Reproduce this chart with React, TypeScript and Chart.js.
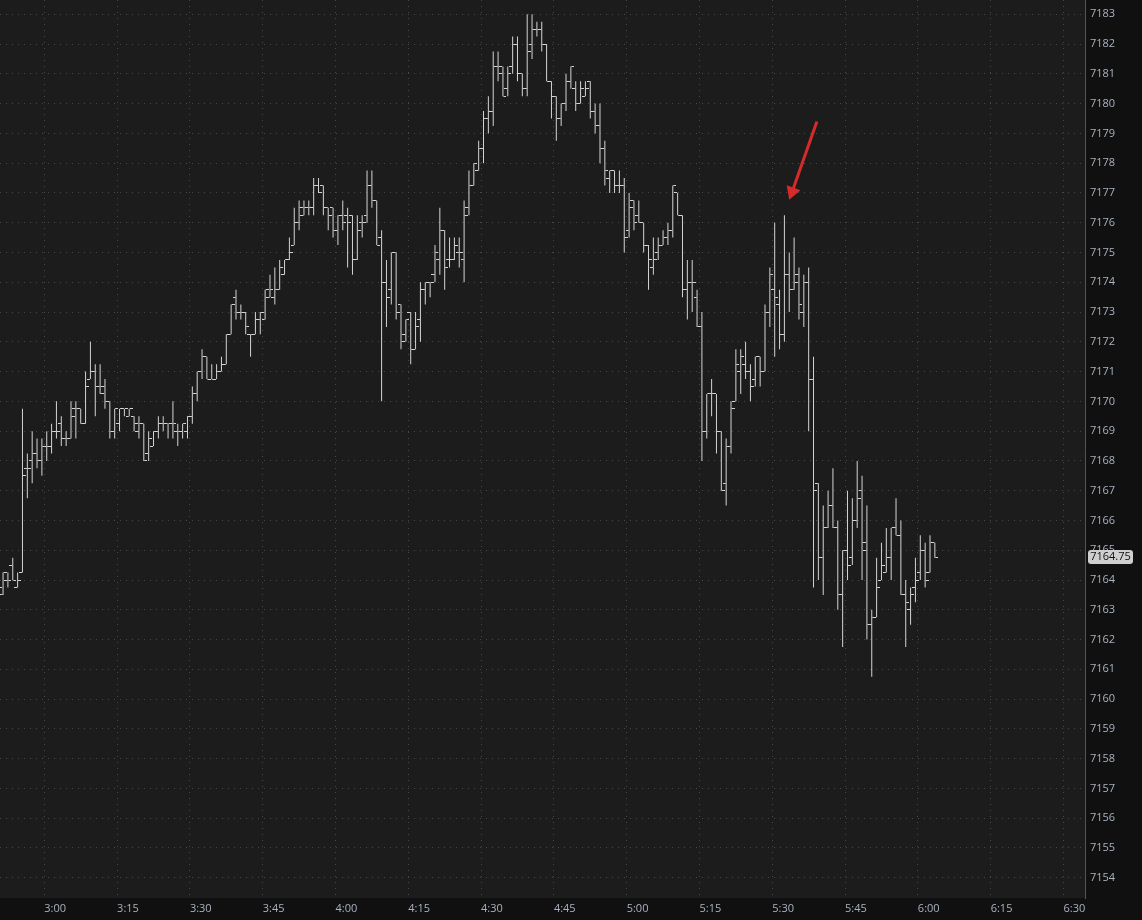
import React, { useEffect, useRef } from 'react';
import { Chart, registerables } from 'chart.js';

Chart.register(...registerables);

// minutes relative to 3:00 of the first (partly hidden) one-minute bar: 2:50
const FIRST_BAR_MINUTE = -10;

const OPEN = [
  7163.5, 7163.5, 7164, 7164.5, 7163.75, 7164.25, 7167.75, 7168, 7168.25, 7168,
  7168.5, 7168.5, 7169, 7169.25, 7168.75, 7168.75, 7169.75, 7169.75, 7169.25, 7170.75,
  7171, 7170.5, 7170.5, 7170, 7169, 7169.25, 7169.75, 7169.5, 7169.5, 7169,
  7169.25, 7168.25, 7168.5, 7169, 7169.25, 7169.25, 7169.25, 7169, 7169, 7169,
  7169.5, 7170.25, 7171, 7171.5, 7170.75, 7170.75, 7171, 7171.25, 7172.25, 7173.5,
  7173, 7173, 7172.25, 7172.25, 7172.75, 7172.75, 7173.5, 7173.5, 7173.75, 7174.25,
  7174.75, 7175.25, 7176, 7176.25, 7176.5, 7176.5, 7177.25, 7177.25, 7176.5, 7176.5,
  7175.75, 7176.25, 7176.25, 7176.25, 7174.75, 7176, 7176.25, 7177.25, 7176.75, 7175.5,
  7174, 7173.75, 7175, 7173.25, 7172.25, 7173, 7171.75, 7172.75, 7173.75, 7174,
  7174.25, 7174.75, 7175.75, 7174.75, 7174.75, 7175, 7174.75, 7176.5, 7177.25, 7177.75,
  7178.5, 7179.5, 7179.75, 7181.25, 7181, 7180.5, 7181.25, 7182, 7181, 7180.5,
  7182, 7182.5, 7182.5, 7182, 7180.75, 7180.25, 7179.5, 7180, 7180.75, 7180.5,
  7180, 7180.25, 7180.75, 7179.75, 7179.25, 7178.5, 7177.5, 7177.75, 7177.25, 7177.25,
  7175.75, 7176.75, 7176.25, 7176, 7175.25, 7174.5, 7175, 7175.25, 7175.5, 7175.75,
  7177, 7176.25, 7173.75, 7174, 7173.5, 7172.5, 7169, 7170.25, 7170.25, 7169,
  7167.25, 7168.5, 7170, 7171, 7171.25, 7171, 7170.75, 7171.5, 7171, 7173,
  7173.75, 7173.25, 7172.25, 7174.25, 7173.75, 7174.25, 7173, 7174, 7170.75, 7167.25,
  7164.75, 7165.75, 7166.5, 7165.75, 7163.5, 7165, 7164.75, 7166, 7167, 7165,
  7162.5, 7162.75, 7164, 7164.25, 7164.75, 7165.75, 7165.5, 7163.5, 7163, 7163.75,
  7164.25, 7165, 7164.25, 7165.25,
];

const HIGH = [
  7164, 7164.25, 7164.25, 7164.75, 7164.25, 7169.75, 7168.25, 7169, 7168.75, 7168.75,
  7169, 7169.25, 7170, 7169.5, 7169, 7170, 7170, 7169.75, 7171, 7172,
  7171.25, 7171.25, 7170.75, 7170, 7169.75, 7169.75, 7169.75, 7169.75, 7169.5, 7169.5,
  7169.25, 7169, 7169, 7169.5, 7169.5, 7169.25, 7170, 7169.25, 7169.25, 7169.5,
  7170.5, 7171, 7171.75, 7171.5, 7171.25, 7171.25, 7171.5, 7172.25, 7173.25, 7173.75,
  7173.25, 7173, 7172.25, 7173, 7173, 7173.75, 7174.25, 7174.5, 7174.75, 7174.75,
  7175.5, 7176.5, 7176.75, 7176.75, 7176.75, 7177.5, 7177.5, 7177.25, 7176.5, 7176.5,
  7176.25, 7176.75, 7176.5, 7176.25, 7176.25, 7176.25, 7177.75, 7177.75, 7176.75, 7175.75,
  7174.75, 7175, 7175, 7173.25, 7172.75, 7173, 7173, 7174, 7174, 7174,
  7175.25, 7176.5, 7175.75, 7175.5, 7175.5, 7175.5, 7176.75, 7177.75, 7178, 7178.75,
  7179.75, 7180.25, 7181.75, 7181.75, 7181.25, 7181.25, 7182.25, 7182.25, 7181, 7183,
  7183, 7182.75, 7182.75, 7182, 7180.75, 7180.25, 7180, 7181, 7181.25, 7180.75,
  7180.75, 7180.75, 7180.75, 7180, 7180, 7178.75, 7177.75, 7177.75, 7177.75, 7177.5,
  7177, 7176.75, 7176.75, 7176, 7175.25, 7175.5, 7175.5, 7175.75, 7176, 7177.25,
  7177, 7176.25, 7174.75, 7174.75, 7173.75, 7173, 7170.25, 7170.75, 7170.25, 7169,
  7168.75, 7170, 7171.75, 7171.75, 7172, 7171.25, 7171.5, 7171.5, 7173.25, 7174.5,
  7176, 7173.75, 7176.25, 7175, 7175.5, 7174.5, 7174.25, 7174.5, 7171.5, 7167.25,
  7166.5, 7167, 7167.75, 7166, 7165, 7167, 7166.75, 7168, 7167.5, 7166.5,
  7163, 7164.75, 7165.25, 7165.75, 7165.75, 7166.75, 7166, 7164, 7163.75, 7164.75,
  7165.5, 7165.25, 7165.5, 7165.25,
];

const LOW = [
  7163.5, 7163.5, 7163.75, 7164, 7163.75, 7164.25, 7166.75, 7167.25, 7167.75, 7167.5,
  7168, 7168.25, 7168.75, 7168.5, 7168.5, 7168.75, 7168.75, 7169.25, 7169.25, 7170.75,
  7169.5, 7170.25, 7169.75, 7168.75, 7168.75, 7169, 7169.5, 7169.5, 7169, 7168.75,
  7168, 7168, 7168.5, 7168.75, 7169, 7168.75, 7168.75, 7168.5, 7168.75, 7168.75,
  7169.25, 7170, 7170.75, 7170.75, 7170.75, 7170.75, 7171, 7171.25, 7172.25, 7172.75,
  7172.75, 7172.25, 7171.5, 7172.25, 7172.25, 7172.75, 7173.5, 7173.25, 7173.75, 7174.25,
  7174.75, 7175.25, 7175.75, 7176.25, 7176.25, 7176.25, 7177, 7176.25, 7175.75, 7175.5,
  7175.25, 7175.75, 7174.5, 7174.25, 7174.75, 7175.5, 7176, 7176.5, 7175.25, 7170,
  7172.5, 7173.25, 7172.75, 7171.75, 7172, 7171.25, 7171.75, 7172, 7173.25, 7173.5,
  7174, 7174.25, 7173.75, 7174.5, 7174.75, 7174.5, 7174, 7176.25, 7177.25, 7177.75,
  7178, 7179, 7179.25, 7180.75, 7180.25, 7180.25, 7181, 7180.75, 7180.25, 7180.25,
  7181.5, 7182.25, 7181.75, 7180.75, 7179.5, 7178.75, 7179.25, 7179.75, 7180.5, 7179.75,
  7180, 7180.25, 7179.5, 7179, 7178, 7177.25, 7177, 7177, 7177, 7175,
  7175.5, 7175.75, 7176, 7175, 7173.75, 7174.25, 7174.75, 7175.25, 7175.25, 7175.5,
  7176.25, 7173.5, 7172.75, 7173, 7172.5, 7168, 7168.75, 7169.5, 7168.25, 7167,
  7166.5, 7168.25, 7170, 7170.25, 7170.75, 7170, 7170.5, 7170.5, 7171, 7172.5,
  7171.5, 7171.75, 7172, 7173, 7173.75, 7172.75, 7172.5, 7169, 7163.75, 7164,
  7163.5, 7165.75, 7165.75, 7163, 7161.75, 7164, 7164.5, 7165.75, 7164, 7162,
  7160.75, 7162.75, 7164, 7164.25, 7164, 7165.5, 7163.5, 7161.75, 7162.5, 7163.25,
  7164, 7163.75, 7164.25, 7164.75,
];

const CLOSE = [
  7163.75, 7164.25, 7164, 7164, 7164, 7167.5, 7167.75, 7168.25, 7168, 7168.5,
  7168.5, 7169, 7169, 7168.75, 7168.75, 7169.5, 7169.75, 7169.25, 7170.5, 7171,
  7170.5, 7170.25, 7170, 7169, 7169.75, 7169.75, 7169.75, 7169.75, 7169.25, 7169.25,
  7168, 7168.75, 7169, 7169.25, 7169.25, 7169.25, 7169.25, 7169, 7169.25, 7169.5,
  7170.25, 7171, 7171.5, 7170.75, 7170.75, 7171, 7171.25, 7172.25, 7173.25, 7173,
  7173, 7172.5, 7172.25, 7172.75, 7173, 7173.75, 7173.75, 7173.75, 7174.5, 7174.75,
  7175, 7176, 7176.5, 7176.5, 7176.5, 7177.25, 7177, 7176.5, 7176.25, 7175.75,
  7176.25, 7176, 7176, 7174.75, 7175.75, 7176, 7177.25, 7176.75, 7175.25, 7174,
  7173.5, 7175, 7173, 7172, 7172.75, 7171.75, 7172.5, 7173.75, 7174, 7174,
  7175, 7175.75, 7174.5, 7174.75, 7175.25, 7175, 7176.25, 7177.25, 7178, 7178.5,
  7179.5, 7179.75, 7181.25, 7181.25, 7180.25, 7181, 7182, 7181, 7180.5, 7181.75,
  7182.5, 7182.5, 7182, 7180.75, 7180.25, 7179.5, 7180, 7180.75, 7181.25, 7180,
  7180.5, 7180.5, 7179.75, 7179.25, 7178.5, 7177.75, 7177.75, 7177.25, 7177.25, 7175.5,
  7176.5, 7176, 7176, 7175.25, 7174.75, 7174.75, 7175.25, 7175.5, 7175.75, 7177.25,
  7176.25, 7173.75, 7174, 7174, 7172.5, 7169, 7170.25, 7170.25, 7169, 7167,
  7168.5, 7169.75, 7171.25, 7171.5, 7171, 7170.5, 7171.5, 7171, 7173, 7174.25,
  7173.5, 7172.25, 7174.25, 7173.75, 7174, 7173.25, 7174, 7170.75, 7167, 7164.75,
  7165.75, 7166.5, 7165.75, 7163.5, 7165, 7164.5, 7166, 7166.75, 7165.25, 7162.5,
  7162.75, 7163.75, 7164.5, 7164.75, 7165.75, 7165.5, 7163.5, 7163.25, 7163.5, 7164,
  7165, 7164, 7165.25, 7164.75,
];

const X_TICKS = [0, 15, 30, 45, 60, 75, 90, 105, 120, 135, 150, 165, 180, 195, 210];
const X_LABELS = ['3:00', '3:15', '3:30', '3:45', '4:00', '4:15', '4:30', '4:45', '5:00', '5:15', '5:30', '5:45', '6:00', '6:15', '6:30'];
const Y_TICKS = [
  7154, 7155, 7156, 7157, 7158, 7159, 7160, 7161, 7162, 7163, 7164, 7165, 7166, 7167, 7168,
  7169, 7170, 7171, 7172, 7173, 7174, 7175, 7176, 7177, 7178, 7179, 7180, 7181, 7182, 7183,
];
const X_RANGE = [-9.13, 214.44];
const Y_RANGE = [7153.32, 7183.48];

// annotation arrow (tail, then arrow-head centre) in chart coordinates
const ARROW_X = [159.2, 154.1];
const ARROW_Y = [7179.4, 7177.04];

const PLOT_BG = '#1c1c1c';
const AXIS_BG = '#101010';
const GRID = '#484848';
const BAR = '#d4d4d4';
const LABEL = '#aab2bf';
const ARROW = '#d62b2b';
const FONT = "'Open Sans', 'DejaVu Sans', sans-serif";

export default function App() {
  const ref = useRef<HTMLCanvasElement | null>(null);

  useEffect(() => {
    const canvas = ref.current;
    if (!canvas) return;

    const tickImage = (left: boolean) => {
      const c = document.createElement('canvas');
      c.width = 7;
      c.height = 1;
      const g = c.getContext('2d')!;
      g.fillStyle = BAR;
      g.fillRect(left ? 0 : 4, 0, 3, 1);
      return c;
    };

    const xs = OPEN.map((_, i) => FIRST_BAR_MINUTE + i + 0.5);
    const ranges = xs.map((x, i) => ({ x, y: [LOW[i], HIGH[i]] }));
    const opens = xs.map((x, i) => ({ x, y: OPEN[i] }));
    const closes = xs.map((x, i) => ({ x, y: CLOSE[i] }));
    const arrow = ARROW_X.map((x, i) => ({ x, y: ARROW_Y[i] }));

    const bgPlugin = {
      id: 'bgPlugin',
      beforeDraw(chart: any) {
        const { ctx, chartArea: a, width, height } = chart;
        ctx.save();
        ctx.fillStyle = AXIS_BG;
        ctx.fillRect(0, 0, width, height);
        ctx.fillStyle = PLOT_BG;
        ctx.fillRect(a.left, a.top, a.right - a.left, a.bottom - a.top);
        ctx.restore();
      },
    };

    const lastPricePlugin = {
      id: 'lastPricePlugin',
      afterDraw(chart: any) {
        const { ctx, chartArea: a } = chart;
        const last = CLOSE[CLOSE.length - 1];
        const y = Math.round(chart.scales.y.getPixelForValue(last));
        ctx.save();
        ctx.fillStyle = '#cfcfcf';
        ctx.beginPath();
        ctx.roundRect(a.right + 3, y - 8, 45, 14, 3);
        ctx.fill();
        ctx.fillStyle = '#101010';
        ctx.font = `11px ${FONT}`;
        ctx.textAlign = 'center';
        ctx.textBaseline = 'middle';
        ctx.fillText(last.toFixed(2), a.right + 3 + 22.5, y - 1);
        ctx.restore();
      },
    };

    const chart = new Chart(canvas, {
      type: 'bar',
      data: {
        datasets: [
          {
            type: 'bar',
            data: ranges as any,
            backgroundColor: BAR,
            borderWidth: 0,
            barThickness: 1,
            inflateAmount: 0,
            grouped: false,
            order: 2,
          } as any,
          {
            type: 'scatter',
            data: opens,
            pointStyle: tickImage(true),
            pointRadius: 3,
            order: 1,
          } as any,
          {
            type: 'scatter',
            data: closes,
            pointStyle: tickImage(false),
            pointRadius: 3,
            order: 1,
          } as any,
          {
            type: 'line',
            data: arrow,
            borderColor: ARROW,
            borderWidth: 3,
            borderCapStyle: 'butt',
            pointRadius: [0, 8.5],
            pointStyle: 'triangle',
            pointRotation: 200,
            pointBackgroundColor: ARROW,
            pointBorderColor: ARROW,
            pointBorderWidth: 0,
            order: 0,
          } as any,
        ],
      },
      options: {
        animation: false,
        responsive: false,
        events: [],
        layout: { padding: 0, autoPadding: false },
        plugins: {
          legend: { display: false },
          tooltip: { enabled: false },
        },
        scales: {
          x: {
            type: 'linear',
            min: X_RANGE[0],
            max: X_RANGE[1],
            offset: false,
            afterBuildTicks: (s: any) => {
              s.ticks = X_TICKS.map((v) => ({ value: v }));
            },
            afterFit: (s: any) => {
              s.height = 22;
              s.paddingLeft = 0;
              s.paddingRight = 0;
            },
            grid: { color: GRID, lineWidth: 1, drawTicks: false, offset: false },
            border: { display: false, dash: [1, 5] },
            ticks: {
              color: LABEL,
              font: { family: FONT, size: 11 },
              align: 'start',
              padding: 4,
              maxRotation: 0,
              autoSkip: false,
              callback: (_v: any, i: number) => X_LABELS[i],
            },
          },
          y: {
            type: 'linear',
            position: 'right',
            min: Y_RANGE[0],
            max: Y_RANGE[1],
            afterBuildTicks: (s: any) => {
              s.ticks = Y_TICKS.map((v) => ({ value: v }));
            },
            afterFit: (s: any) => {
              s.width = 57;
              s.paddingTop = 0;
              s.paddingBottom = 0;
            },
            grid: { color: GRID, lineWidth: 1, drawTicks: false },
            border: { display: true, color: '#555555', width: 1, dash: [1, 5] },
            ticks: {
              color: LABEL,
              font: { family: FONT, size: 11 },
              padding: 5,
              autoSkip: false,
              callback: (v: any) => String(v),
            },
          },
        },
      } as any,
      plugins: [bgPlugin, lastPricePlugin],
    });

    return () => chart.destroy();
  }, []);

  return (
    <div style={{ position: 'fixed', left: 0, top: 0, width: 1142, height: 920, background: AXIS_BG }}>
      <canvas ref={ref} width={1142} height={920} style={{ display: 'block' }} />
    </div>
  );
}
